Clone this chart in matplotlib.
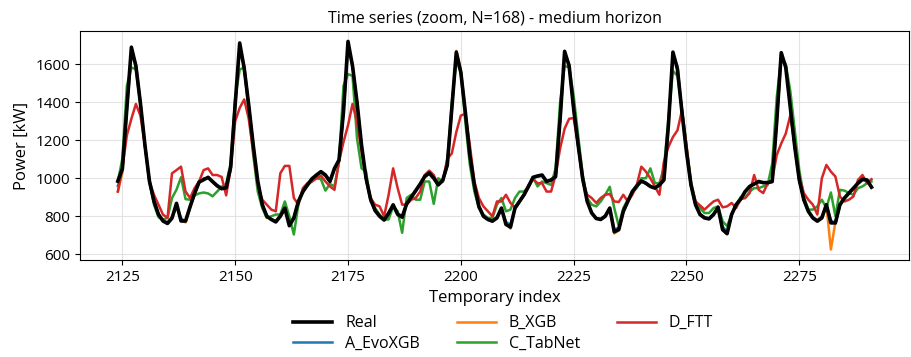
import matplotlib.pyplot as plt
import numpy as np

plt.rcParams['font.family'] = ['Open Sans', 'DejaVu Sans']

# hourly index of the zoom window
idx = np.arange(2124, 2292)

real = [985, 1050, 1370, 1690, 1590, 1395, 1175, 985, 880, 810, 775, 762,
        790, 868, 775, 775, 850, 920, 980, 992, 1005, 982, 960, 945,
        950, 1058, 1390, 1712, 1578, 1385, 1175, 985, 862, 800, 783, 770,
        800, 843, 750, 791, 878, 930, 965, 997, 1017, 1035, 1017, 983,
        1052, 1096, 1350, 1720, 1591, 1400, 1174, 1000, 890, 830, 800, 780,
        815, 860, 810, 795, 866, 900, 935, 970, 1010, 1028, 1000, 965,
        990, 1070, 1365, 1664, 1557, 1348, 1122, 965, 852, 800, 783, 774,
        791, 843, 757, 743, 843, 878, 913, 957, 1005, 1012, 1017, 983,
        991, 1009, 1310, 1668, 1591, 1365, 1174, 1000, 878, 817, 788, 783,
        800, 843, 718, 730, 826, 878, 930, 960, 986, 974, 957, 948,
        965, 991, 1280, 1664, 1574, 1348, 1139, 965, 861, 809, 791, 786,
        809, 847, 730, 708, 809, 861, 890, 930, 957, 970, 983, 977,
        977, 983, 1300, 1661, 1583, 1374, 1165, 991, 887, 826, 791, 774,
        791, 861, 765, 765, 861, 896, 922, 948, 974, 995, 991, 953]

a_evoxgb = [960, 1040, 1360, 1650, 1600, 1400, 1170, 980, 875, 805, 778, 768,
            795, 850, 790, 770, 845, 915, 975, 1000, 1000, 985, 965, 950,
            955, 1050, 1380, 1680, 1585, 1390, 1170, 980, 860, 805, 785, 775,
            805, 840, 765, 795, 875, 925, 960, 990, 1010, 1030, 1010, 985,
            1045, 1090, 1345, 1690, 1595, 1395, 1170, 995, 885, 830, 805, 785,
            820, 855, 815, 800, 862, 895, 930, 968, 1005, 1022, 1000, 970,
            985, 1065, 1360, 1650, 1565, 1345, 1120, 962, 850, 805, 788, 778,
            795, 840, 770, 755, 840, 875, 910, 955, 1000, 1010, 1012, 985,
            988, 1005, 1305, 1650, 1600, 1360, 1170, 998, 880, 820, 790, 786,
            803, 840, 730, 740, 822, 875, 925, 958, 982, 972, 955, 950,
            962, 988, 1275, 1650, 1590, 1350, 1140, 962, 860, 812, 795, 790,
            812, 843, 745, 720, 805, 858, 888, 928, 955, 968, 980, 975,
            975, 980, 1295, 1640, 1600, 1380, 1160, 988, 885, 828, 795, 780,
            800, 855, 780, 760, 856, 892, 920, 946, 970, 990, 988, 955]

b_xgb = [930, 1030, 1365, 1670, 1600, 1400, 1172, 982, 878, 808, 776, 765,
         792, 858, 780, 768, 848, 918, 978, 995, 1002, 983, 962, 948,
         952, 1055, 1385, 1695, 1590, 1388, 1172, 982, 860, 802, 784, 772,
         802, 842, 758, 793, 876, 928, 962, 993, 1013, 1032, 1013, 984,
         1048, 1093, 1348, 1700, 1600, 1398, 1172, 998, 888, 830, 802, 782,
         818, 858, 812, 798, 864, 898, 932, 969, 1008, 1025, 1000, 968,
         988, 1068, 1362, 1670, 1570, 1350, 1121, 963, 851, 803, 786, 776,
         793, 842, 765, 735, 842, 876, 912, 956, 1002, 1011, 1015, 984,
         990, 1007, 1308, 1660, 1600, 1362, 1172, 999, 879, 818, 789, 785,
         802, 842, 710, 725, 824, 876, 928, 959, 984, 973, 956, 949,
         963, 990, 1278, 1655, 1585, 1350, 1140, 963, 860, 810, 793, 788,
         810, 845, 725, 715, 807, 860, 889, 929, 956, 969, 982, 976,
         976, 982, 1298, 1650, 1595, 1378, 1162, 990, 886, 827, 793, 777,
         795, 858, 625, 770, 858, 894, 921, 947, 972, 992, 990, 954]

c_tabnet = [983, 1104, 1487, 1583, 1574, 1383, 1174, 983, 861, 795, 783, 791,
            896, 940, 1005, 890, 887, 910, 920, 925, 920, 905, 930, 955,
            970, 1080, 1420, 1572, 1583, 1348, 1122, 930, 843, 791, 800, 809,
            809, 878, 800, 704, 861, 930, 965, 983, 1000, 995, 935, 970,
            957, 1087, 1487, 1548, 1539, 1209, 1052, 1035, 878, 843, 809, 783,
            783, 852, 826, 713, 896, 913, 887, 887, 983, 983, 865, 1000,
            983, 1087, 1400, 1617, 1557, 1296, 1070, 930, 843, 809, 791, 791,
            861, 896, 826, 835, 896, 930, 930, 957, 1005, 957, 983, 974,
            965, 1052, 1400, 1591, 1583, 1435, 1226, 1017, 896, 861, 852, 878,
            913, 955, 843, 748, 843, 887, 922, 950, 1000, 1000, 1052, 974,
            974, 1052, 1313, 1565, 1539, 1365, 1174, 983, 878, 843, 817, 817,
            843, 852, 774, 748, 809, 861, 900, 896, 930, 948, 948, 957,
            965, 1078, 1426, 1635, 1600, 1461, 1252, 1043, 904, 835, 835, 852,
            887, 843, 925, 800, 939, 935, 922, 913, 948, 957, 974, 983]

d_ftt = [930, 1052, 1226, 1313, 1391, 1330, 1174, 983, 913, 861, 809, 791,
         1026, 1043, 1061, 930, 896, 948, 983, 1043, 1052, 1017, 1017, 1007,
         910, 1050, 1300, 1370, 1415, 1313, 1139, 965, 887, 861, 835, 826,
         1026, 1065, 1065, 896, 861, 948, 974, 983, 1000, 1012, 983, 957,
         939, 1087, 1191, 1278, 1391, 1296, 1139, 1000, 896, 861, 852, 800,
         913, 1052, 948, 861, 861, 887, 896, 930, 1017, 1040, 1017, 965,
         983, 1104, 1130, 1243, 1330, 1339, 1174, 983, 896, 852, 826, 800,
         878, 878, 913, 870, 847, 878, 913, 965, 995, 974, 974, 930,
         930, 1017, 1157, 1261, 1313, 1317, 1174, 983, 913, 896, 870, 896,
         913, 917, 878, 875, 913, 878, 913, 965, 1061, 1035, 1000, 957,
         913, 1087, 1165, 1217, 1252, 1357, 1174, 965, 878, 857, 835, 857,
         878, 887, 847, 852, 870, 843, 890, 896, 922, 1017, 939, 922,
         974, 991, 1122, 1183, 1235, 1330, 1183, 1009, 922, 887, 861, 809,
         1000, 1070, 1035, 1009, 904, 878, 887, 904, 991, 1017, 974, 995]

fig = plt.figure(figsize=(9.11, 3.57), dpi=100)
ax = fig.add_axes([0.088, 0.272, 0.91, 0.641])

ax.plot(idx, real, color='black', lw=2.6, label='Real', zorder=6)
ax.plot(idx, a_evoxgb, color='tab:blue', lw=1.8, label='A_EvoXGB', zorder=2)
ax.plot(idx, b_xgb, color='tab:orange', lw=1.8, label='B_XGB', zorder=3)
ax.plot(idx, c_tabnet, color='tab:green', lw=1.8, label='C_TabNet', zorder=4)
ax.plot(idx, d_ftt, color='tab:red', lw=1.8, label='D_FTT', zorder=5)

ax.set_xticks([2125, 2150, 2175, 2200, 2225, 2250, 2275])
ax.set_yticks([600, 800, 1000, 1200, 1400, 1600])
ax.grid(True, color='#dddddd', lw=0.8, alpha=0.8)
ax.set_axisbelow(True)
ax.tick_params(labelsize=11)

ax.set_title('Time series (zoom, N=168) - medium horizon', fontsize=11.5)
ax.set_xlabel('Temporary index', fontsize=12, labelpad=4)
ax.set_ylabel('Power [kW]', fontsize=12)

ax.legend(loc='upper center', bbox_to_anchor=(0.51, -0.2), ncol=3,
          frameon=False, fontsize=11.5, columnspacing=2.3, handlelength=2.45,
          labelspacing=0.3, borderpad=0.1)

fig.savefig('out.png', dpi=100)
